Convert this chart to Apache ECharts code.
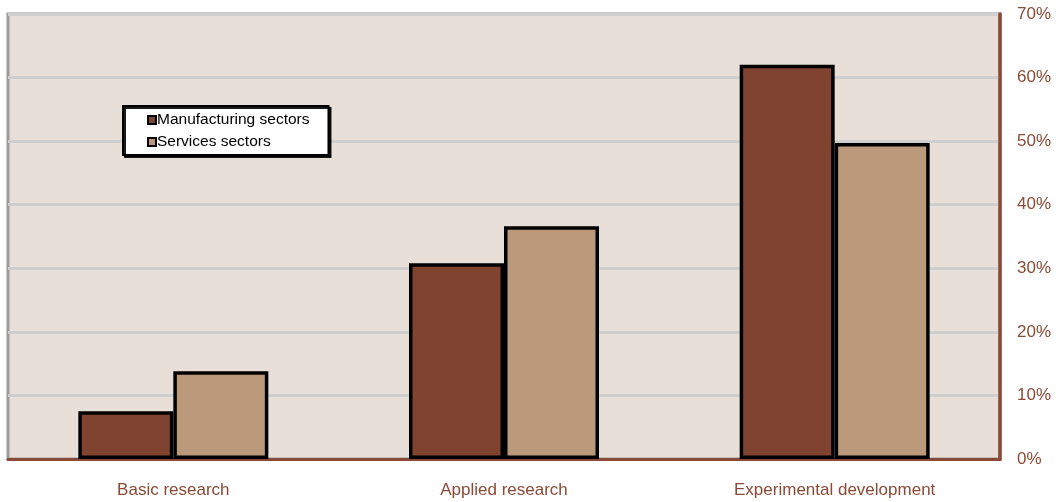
<!DOCTYPE html>
<html>
<head>
<meta charset="utf-8">
<script src="https://cdn.jsdelivr.net/npm/echarts@6/dist/echarts.min.js"></script>
<style>
  html, body { margin: 0; padding: 0; background: #ffffff; }
  #chart { width: 1059px; height: 502px; }
</style>
</head>
<body>
<div id="chart"></div>
<script>
// R&D expenditure by type of activity, share of total (%)
const categories = ['Basic research', 'Applied research', 'Experimental development'];
const manufacturing = [7.5, 30.8, 62.0];
const services = [13.8, 36.6, 49.7];
const yTicks = { min: 0, max: 70, interval: 10 };

const axisBrown = '#8A4A36';
const labelFont = '"Liberation Sans", Arial, sans-serif';

const chart = echarts.init(document.getElementById('chart'), null, { renderer: 'canvas' });

chart.setOption({
  animation: false,
  backgroundColor: '#ffffff',
  grid: {
    left: 8, right: 59, top: 14, bottom: 43,
    show: true,
    backgroundColor: '#E8E0D8',
    borderColor: '#9A9A9A',
    borderWidth: 3
  },
  legend: {
    orient: 'vertical',
    left: 123, top: 106,
    padding: [6, 19, 5, 24],
    itemGap: 6,
    itemWidth: 8, itemHeight: 8,
    icon: 'rect',
    backgroundColor: '#ffffff',
    borderColor: '#000000',
    borderWidth: 2,
    shadowColor: 'rgba(0,0,0,0.9)',
    shadowOffsetX: 2, shadowOffsetY: 2,
    textStyle: { fontFamily: labelFont, fontSize: 15.5, color: '#000', padding: [0, 0, 0, -4] },
    data: ['Manufacturing sectors', 'Services sectors']
  },
  xAxis: {
    type: 'category',
    data: categories,
    axisLine: { show: true, lineStyle: { color: axisBrown, width: 3 } },
    axisTick: { show: false },
    axisLabel: { color: axisBrown, fontFamily: labelFont, fontSize: 17, margin: 23 }
  },
  yAxis: {
    type: 'value',
    position: 'right',
    min: yTicks.min, max: yTicks.max, interval: yTicks.interval,
    axisLine: { show: true, lineStyle: { color: axisBrown, width: 3.5 } },
    axisTick: { show: false },
    axisLabel: { color: axisBrown, fontFamily: labelFont, fontSize: 17, margin: 17, formatter: '{value}%' },
    splitLine: { show: true, lineStyle: { color: '#CFCFCF', width: 3 } }
  },
  series: [
    {
      name: 'Manufacturing sectors',
      type: 'bar',
      data: manufacturing,
      barWidth: 95,
      barGap: '0%',
      itemStyle: { color: '#80432F', borderColor: '#000000', borderWidth: 3.5 }
    },
    {
      name: 'Services sectors',
      type: 'bar',
      data: services,
      barWidth: 95,
      barGap: '0%',
      itemStyle: { color: '#BA9A7B', borderColor: '#000000', borderWidth: 3.5 }
    }
  ]
});
</script>
</body>
</html>
